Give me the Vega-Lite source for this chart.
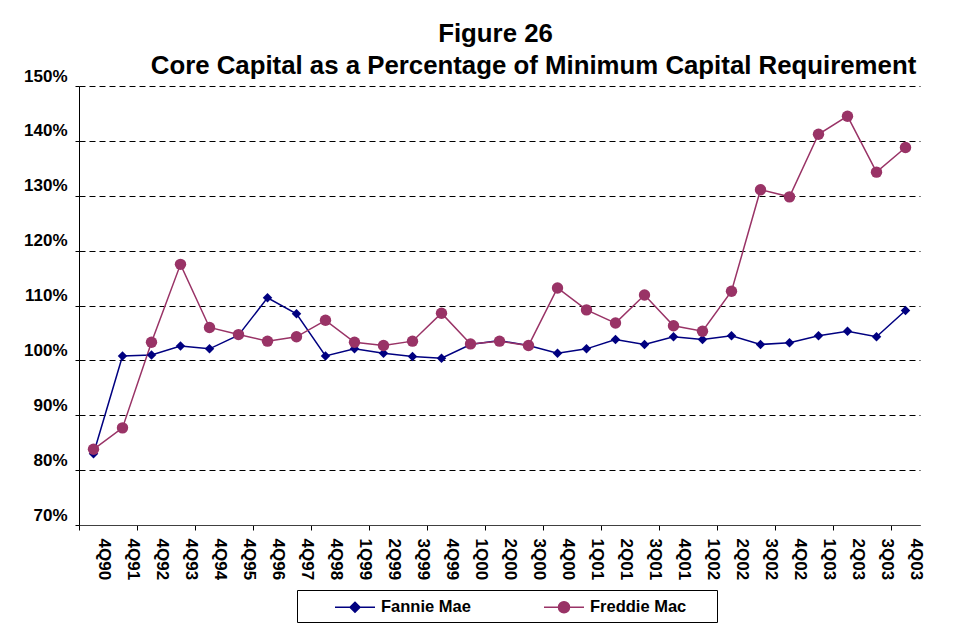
{
  "$schema": "https://vega.github.io/schema/vega-lite/v6.json",
  "width": 841,
  "height": 439,
  "autosize": "none",
  "padding": {"left": 79, "top": 86, "right": 33, "bottom": 105},
  "background": "white",
  "config": {"view": {"stroke": null}, "font": "Liberation Sans"},
  "title": {
    "text": "Figure 26",
    "subtitle": "\u2800\u2800\u2800\u2800Core Capital as a Percentage of Minimum Capital Requirement",
    "font": "Liberation Sans",
    "subtitleFont": "Liberation Sans",
    "fontSize": 25.8,
    "subtitleFontSize": 25.8,
    "fontWeight": "bold",
    "subtitleFontWeight": "bold",
    "color": "black",
    "subtitleColor": "black",
    "anchor": "middle",
    "frame": "group",
    "dx": -4,
    "offset": -13,
    "subtitlePadding": 6
  },
  "data": {
    "values": [
      {"quarter": "4Q90", "series": "Fannie Mae", "value": 83.0},
      {"quarter": "4Q91", "series": "Fannie Mae", "value": 100.8},
      {"quarter": "4Q92", "series": "Fannie Mae", "value": 101.0},
      {"quarter": "4Q93", "series": "Fannie Mae", "value": 102.6},
      {"quarter": "4Q94", "series": "Fannie Mae", "value": 102.1},
      {"quarter": "4Q95", "series": "Fannie Mae", "value": 104.6},
      {"quarter": "4Q96", "series": "Fannie Mae", "value": 111.4},
      {"quarter": "4Q97", "series": "Fannie Mae", "value": 108.5},
      {"quarter": "4Q98", "series": "Fannie Mae", "value": 100.8},
      {"quarter": "1Q99", "series": "Fannie Mae", "value": 102.1},
      {"quarter": "2Q99", "series": "Fannie Mae", "value": 101.3},
      {"quarter": "3Q99", "series": "Fannie Mae", "value": 100.7},
      {"quarter": "4Q99", "series": "Fannie Mae", "value": 100.4},
      {"quarter": "1Q00", "series": "Fannie Mae", "value": 102.9},
      {"quarter": "2Q00", "series": "Fannie Mae", "value": 103.6},
      {"quarter": "3Q00", "series": "Fannie Mae", "value": 102.7},
      {"quarter": "4Q00", "series": "Fannie Mae", "value": 101.3},
      {"quarter": "1Q01", "series": "Fannie Mae", "value": 102.1},
      {"quarter": "2Q01", "series": "Fannie Mae", "value": 103.8},
      {"quarter": "3Q01", "series": "Fannie Mae", "value": 102.9},
      {"quarter": "4Q01", "series": "Fannie Mae", "value": 104.3},
      {"quarter": "1Q02", "series": "Fannie Mae", "value": 103.8},
      {"quarter": "2Q02", "series": "Fannie Mae", "value": 104.5},
      {"quarter": "3Q02", "series": "Fannie Mae", "value": 102.9},
      {"quarter": "4Q02", "series": "Fannie Mae", "value": 103.2},
      {"quarter": "1Q03", "series": "Fannie Mae", "value": 104.5},
      {"quarter": "2Q03", "series": "Fannie Mae", "value": 105.3},
      {"quarter": "3Q03", "series": "Fannie Mae", "value": 104.3},
      {"quarter": "4Q03", "series": "Fannie Mae", "value": 109.1},
      {"quarter": "4Q90", "series": "Freddie Mac", "value": 83.8},
      {"quarter": "4Q91", "series": "Freddie Mac", "value": 87.7},
      {"quarter": "4Q92", "series": "Freddie Mac", "value": 103.3},
      {"quarter": "4Q93", "series": "Freddie Mac", "value": 117.5},
      {"quarter": "4Q94", "series": "Freddie Mac", "value": 106.0},
      {"quarter": "4Q95", "series": "Freddie Mac", "value": 104.7},
      {"quarter": "4Q96", "series": "Freddie Mac", "value": 103.5},
      {"quarter": "4Q97", "series": "Freddie Mac", "value": 104.3},
      {"quarter": "4Q98", "series": "Freddie Mac", "value": 107.3},
      {"quarter": "1Q99", "series": "Freddie Mac", "value": 103.3},
      {"quarter": "2Q99", "series": "Freddie Mac", "value": 102.7},
      {"quarter": "3Q99", "series": "Freddie Mac", "value": 103.5},
      {"quarter": "4Q99", "series": "Freddie Mac", "value": 108.6},
      {"quarter": "1Q00", "series": "Freddie Mac", "value": 103.0},
      {"quarter": "2Q00", "series": "Freddie Mac", "value": 103.5},
      {"quarter": "3Q00", "series": "Freddie Mac", "value": 102.7},
      {"quarter": "4Q00", "series": "Freddie Mac", "value": 113.2},
      {"quarter": "1Q01", "series": "Freddie Mac", "value": 109.2},
      {"quarter": "2Q01", "series": "Freddie Mac", "value": 106.8},
      {"quarter": "3Q01", "series": "Freddie Mac", "value": 111.9},
      {"quarter": "4Q01", "series": "Freddie Mac", "value": 106.3},
      {"quarter": "1Q02", "series": "Freddie Mac", "value": 105.3},
      {"quarter": "2Q02", "series": "Freddie Mac", "value": 112.6},
      {"quarter": "3Q02", "series": "Freddie Mac", "value": 131.1},
      {"quarter": "4Q02", "series": "Freddie Mac", "value": 129.8},
      {"quarter": "1Q03", "series": "Freddie Mac", "value": 141.2},
      {"quarter": "2Q03", "series": "Freddie Mac", "value": 144.5},
      {"quarter": "3Q03", "series": "Freddie Mac", "value": 134.3},
      {"quarter": "4Q03", "series": "Freddie Mac", "value": 138.8}
    ]
  },
  "encoding": {
    "x": {
      "field": "quarter",
      "type": "nominal",
      "sort": null,
      "scale": {"type": "band", "paddingInner": 0, "paddingOuter": 0},
      "axis": {
        "title": null,
        "bandPosition": 0,
        "labelAngle": 90,
        "labelAlign": "left",
        "labelBaseline": "middle",
        "labelFont": "Liberation Sans",
        "labelFontSize": 17,
        "labelFontWeight": "bold",
        "labelColor": "black",
        "labelOffset": 10,
        "labelPadding": 8,
        "labelOverlap": false,
        "labelBound": false,
        "tickSize": 5,
        "tickColor": "black",
        "domainColor": "#404040",
        "grid": false,
        "tickOpacity": {
          "condition": {
            "test": "indexof(['4Q90','4Q92','4Q94','4Q96','4Q98','2Q99','4Q99','2Q00','4Q00','2Q01','4Q01','2Q02','4Q02','2Q03','4Q03'], datum.value) >= 0",
            "value": 1
          },
          "value": 0
        }
      }
    },
    "y": {
      "field": "value",
      "type": "quantitative",
      "scale": {"domain": [70, 150], "nice": false, "zero": false},
      "axis": {
        "title": null,
        "values": [70, 80, 90, 100, 110, 120, 130, 140, 150],
        "labelExpr": "datum.value + '%'",
        "labelFont": "Liberation Sans",
        "labelFontSize": 17,
        "labelFontWeight": "bold",
        "labelColor": "black",
        "labelOffset": -10,
        "labelPadding": 8,
        "tickSize": 4,
        "tickColor": "black",
        "domainColor": "black",
        "grid": true,
        "gridColor": "black",
        "gridDash": [6, 4],
        "gridWidth": 1
      }
    }
  },
  "layer": [
    {
      "mark": {"type": "line", "strokeWidth": 1.5},
      "encoding": {
        "detail": {"field": "series", "type": "nominal"},
        "stroke": {
          "condition": {"test": "datum.series == 'Fannie Mae'", "value": "#000080"},
          "value": "#993366"
        }
      }
    },
    {
      "transform": [{"filter": "datum.series == 'Fannie Mae'"}],
      "mark": {"type": "point", "shape": "diamond", "filled": true, "color": "#000080", "size": 90, "opacity": 1}
    },
    {
      "transform": [{"filter": "datum.series == 'Freddie Mac'"}],
      "mark": {"type": "point", "shape": "circle", "filled": true, "color": "#993366", "size": 130, "opacity": 1}
    },
    {
      "mark": {"type": "point", "filled": true, "size": 0, "opacity": 1},
      "encoding": {
        "color": {
          "field": "series",
          "type": "nominal",
          "scale": {"domain": ["Fannie Mae", "Freddie Mac"], "range": ["#000080", "#993366"]},
          "legend": {
            "orient": "none",
            "legendX": 218,
            "legendY": 504,
            "direction": "horizontal",
            "title": null,
            "strokeColor": "black",
            "fillColor": "white",
            "padding": 6,
            "symbolSize": 400,
            "symbolOffset": 31,
            "symbolStrokeWidth": 1.5,
            "symbolOpacity": 1,
            "labelFont": "Liberation Sans",
            "labelFontSize": 16.5,
            "labelFontWeight": "bold",
            "labelColor": "black",
            "labelOffset": 25,
            "columnPadding": 41,
            "labelExpr": "datum.label == 'Freddie Mac' ? datum.label + '\u2800\u2800' : datum.label",
            "encode": {
              "symbols": {
                "update": {
                  "stroke": {"scale": "color", "field": "value"},
                  "strokeWidth": {"value": 1.5}
                }
              }
            }
          }
        },
        "shape": {
          "field": "series",
          "type": "nominal",
          "scale": {
            "domain": ["Fannie Mae", "Freddie Mac"],
            "range": [
              "M-1,0L3,0M1,-0.5L1.5,0L1,0.5L0.5,0Z",
              "M-1,0L3,0M0.45,0A0.55,0.55,0,1,1,1.55,0A0.55,0.55,0,1,1,0.45,0Z"
            ]
          }
        }
      }
    }
  ]
}
